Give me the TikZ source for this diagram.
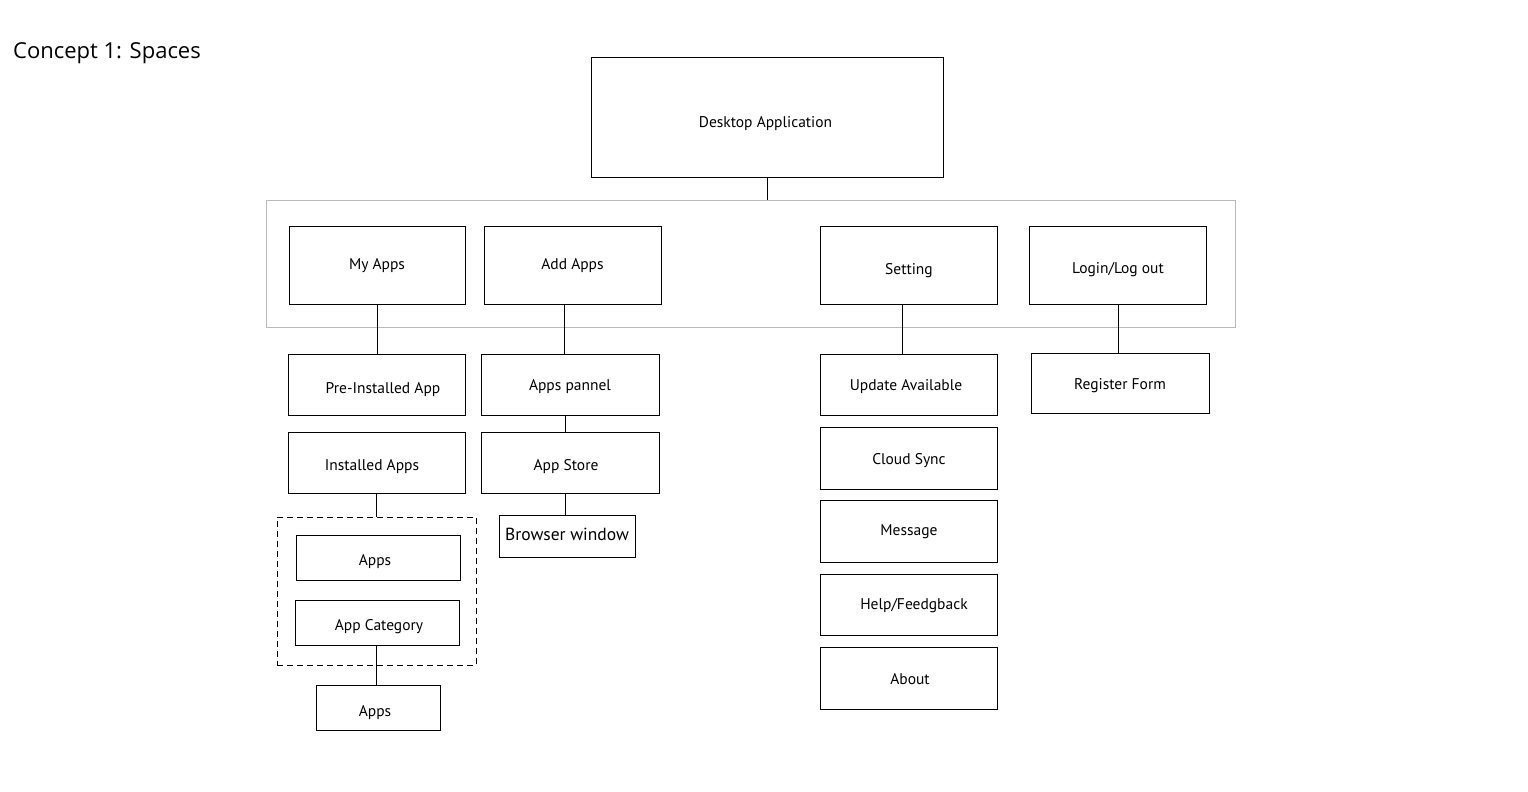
\documentclass[tikz,border=0pt]{standalone}
\usepackage{fontspec}
\setmainfont{PT Sans}
\newfontfamily\titlefont{Open Sans}
\newcommand\tx[3]{\raisebox{-#2pt}[0pt][0pt]{\makebox[0pt]{\hspace*{#1pt}\hspace*{#1pt}#3}}}
\begin{document}
\begin{tikzpicture}[x=1pt,y=-1pt,
  box/.style={draw=black,line width=1pt,inner sep=0pt,font=\fontsize{15.5}{18}\selectfont,text=black},
  conn/.style={draw=black,line width=1pt}]
\useasboundingbox (0,0) rectangle (1528,792);
\fill[white] (0,0) rectangle (1528,792);

\node[anchor=base west,inner sep=0pt,font=\titlefont\fontsize{22}{26}\selectfont] (title) at (13,59) {Concept 1: Spaces};

% container
\node[draw=black!27,line width=1pt,minimum width=969pt,minimum height=127pt,inner sep=0pt] (cont) at (750.5,263.5) {};

\node[box,minimum width=352pt,minimum height=119pt] (desk) at (767,117.5) {\tx{-1.5}{9.5}{Desktop Application}};

\node[box,minimum width=176pt,minimum height=78pt] (myapps) at (377,265) {\tx{0}{4.5}{My Apps}};
\node[box,minimum width=177pt,minimum height=78pt] (addapps) at (572.5,265) {\tx{0}{4.5}{Add Apps}};
\node[box,minimum width=177pt,minimum height=78pt] (setting) at (908.5,265) {\tx{0.5}{9}{Setting}};
\node[box,minimum width=177pt,minimum height=78pt] (login) at (1117.5,265) {\tx{0.5}{8}{Login/Log out}};

\node[box,minimum width=177pt,minimum height=61pt] (pre) at (376.5,384.5) {\tx{6.5}{8.5}{Pre-Installed App}};
\node[box,minimum width=178pt,minimum height=61pt] (panel) at (570,384.5) {\tx{0}{5.5}{Apps pannel}};
\node[box,minimum width=177pt,minimum height=61pt] (inst) at (376.5,462.5) {\tx{-4.5}{7.5}{Installed Apps}};
\node[box,minimum width=178pt,minimum height=61pt] (store) at (570,462.5) {\tx{-4}{7.5}{App Store}};
\node[box,minimum width=136pt,minimum height=42pt,font=\fontsize{17.5}{20}\selectfont] (browser) at (567,536) {\tx{0}{4.5}{Browser window}};

\node[draw=black,line width=1pt,dash pattern=on 6pt off 4pt,minimum width=199pt,minimum height=148pt,inner sep=0pt] (grp) at (376.5,591) {};
\node[box,minimum width=164pt,minimum height=45pt] (apps1) at (378,557.5) {\tx{-3}{7.5}{Apps}};
\node[box,minimum width=164pt,minimum height=45pt] (appcat) at (377,622.5) {\tx{2}{7.5}{App Category}};
\node[box,minimum width=124pt,minimum height=45pt] (apps2) at (378,707.5) {\tx{-3}{8.5}{Apps}};

\node[box,minimum width=177pt,minimum height=61pt] (upd) at (908.5,384.5) {\tx{-2.5}{5.5}{Update Available}};
\node[box,minimum width=177pt,minimum height=62pt] (cloud) at (908.5,458) {\tx{0.5}{6}{Cloud Sync}};
\node[box,minimum width=177pt,minimum height=62pt] (msg) at (908.5,531) {\tx{0.5}{4}{Message}};
\node[box,minimum width=177pt,minimum height=61pt] (help) at (908.5,604.5) {\tx{5.5}{4.5}{Help/Feedgback}};
\node[box,minimum width=177pt,minimum height=62pt] (about) at (908.5,678) {\tx{1.5}{6}{About}};

\node[box,minimum width=178pt,minimum height=60pt] (reg) at (1120,383) {\tx{0}{6}{Register Form}};

% connectors
\draw[conn] (desk.south) -- (desk.south |- cont.north);
\draw[conn] (myapps.south) -- (myapps.south |- pre.north);
\draw[conn] ([xshift=-8.5pt]addapps.south) -- ([xshift=-8.5pt]addapps.south |- panel.north);
\draw[conn] ([xshift=-6.5pt]setting.south) -- ([xshift=-6.5pt]setting.south |- upd.north);
\draw[conn] ([xshift=0.5pt]login.south) -- ([xshift=0.5pt]login.south |- reg.north);
\draw[conn] ([xshift=-5pt]panel.south) -- ([xshift=-5pt]panel.south |- store.north);
\draw[conn] ([xshift=-5pt]store.south) -- ([xshift=-5pt]store.south |- browser.north);
\draw[conn] (inst.south) -- (inst.south |- grp.north);
\draw[conn] ([xshift=-1pt]appcat.south) -- ([xshift=-1pt]appcat.south |- apps2.north);
\end{tikzpicture}
\end{document}
